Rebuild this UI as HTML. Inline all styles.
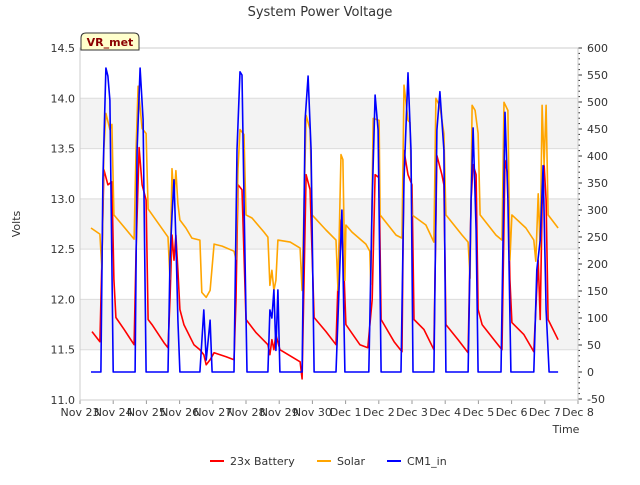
<!DOCTYPE html>
<html><head><meta charset="utf-8"><style>
body{margin:0;background:#fff;font-family:"Liberation Sans",sans-serif}
svg text{font-family:"DejaVu Sans","Liberation Sans",sans-serif}
</style></head><body>
<svg id="c" width="640" height="480" xmlns="http://www.w3.org/2000/svg"></svg>
<script>
const xTickLabels=["Nov 23","Nov 24","Nov 25","Nov 26","Nov 27","Nov 28","Nov 29","Nov 30","Dec 1","Dec 2","Dec 3","Dec 4","Dec 5","Dec 6","Dec 7","Dec 8"];
const leftTicks=[11.0,11.5,12.0,12.5,13.0,13.5,14.0,14.5];
const rightTicks=[-50,0,50,100,150,200,250,300,350,400,450,500,550,600];
const solarT=[0.33,0.60,0.66,0.72,0.78,0.90,0.96,1.02,1.63,1.69,1.75,1.87,1.99,2.05,2.65,2.71,2.77,2.83,2.89,2.95,3.01,3.19,3.37,3.61,3.67,3.80,3.92,4.04,4.28,4.64,4.70,4.76,4.82,4.94,5.00,5.18,5.54,5.66,5.72,5.78,5.84,5.90,5.96,6.33,6.63,6.69,6.81,6.93,6.99,7.41,7.71,7.77,7.86,7.92,7.98,8.01,8.19,8.61,8.73,8.76,8.83,9.01,9.04,9.52,9.70,9.76,9.88,9.94,10.00,10.42,10.66,10.72,10.84,10.96,11.02,11.51,11.69,11.75,11.81,11.90,11.99,12.05,12.53,12.71,12.77,12.89,12.95,13.01,13.43,13.67,13.73,13.80,13.86,13.92,13.98,14.04,14.10,14.40];
const solarV=[12.71,12.65,12.30,13.50,13.85,13.69,13.74,12.84,12.60,13.50,14.12,13.70,13.65,12.90,12.62,12.20,13.30,13.00,13.28,12.95,12.79,12.71,12.61,12.59,12.07,12.02,12.09,12.55,12.53,12.48,12.40,13.30,13.69,13.64,12.84,12.81,12.67,12.62,12.14,12.29,12.09,12.19,12.59,12.57,12.51,12.09,13.83,13.69,12.84,12.69,12.59,12.09,13.44,13.39,12.19,12.74,12.67,12.55,12.48,12.15,13.80,13.78,12.84,12.64,12.61,14.13,13.78,13.76,12.84,12.74,12.57,14.00,13.92,13.65,12.84,12.64,12.57,12.21,13.93,13.88,13.65,12.84,12.64,12.59,13.96,13.88,12.39,12.84,12.71,12.59,12.38,13.05,12.50,13.93,13.34,13.93,12.84,12.71];
const battT=[0.36,0.60,0.66,0.72,0.84,0.96,1.02,1.08,1.33,1.63,1.69,1.78,1.87,1.99,2.05,2.17,2.53,2.65,2.71,2.77,2.83,2.89,2.95,3.01,3.13,3.43,3.61,3.73,3.80,3.92,4.04,4.40,4.64,4.70,4.76,4.88,5.00,5.30,5.66,5.72,5.78,5.84,5.90,6.02,6.63,6.69,6.81,6.93,7.05,7.41,7.71,7.83,7.89,7.95,8.01,8.43,8.67,8.80,8.89,9.01,9.07,9.46,9.70,9.76,9.88,10.00,10.06,10.36,10.66,10.75,10.90,10.96,11.02,11.39,11.69,11.78,11.84,11.93,11.99,12.11,12.47,12.71,12.80,12.89,12.95,13.01,13.37,13.67,13.73,13.80,13.86,13.92,13.98,14.04,14.10,14.40];
const battV=[11.68,11.58,12.39,13.29,13.14,13.17,12.20,11.82,11.70,11.55,12.49,13.51,13.14,12.99,11.80,11.75,11.57,11.52,12.00,12.64,12.39,12.64,12.29,11.90,11.75,11.55,11.50,11.45,11.35,11.40,11.47,11.43,11.40,12.00,13.14,13.09,11.80,11.67,11.55,11.45,11.60,11.50,11.65,11.50,11.38,11.21,13.24,13.09,11.82,11.68,11.55,12.79,12.64,12.29,11.75,11.55,11.52,12.00,13.24,13.21,11.80,11.58,11.48,13.48,13.24,13.14,11.80,11.70,11.50,13.43,13.24,13.14,11.75,11.60,11.47,12.99,13.34,13.24,11.90,11.75,11.60,11.50,13.38,13.24,12.20,11.77,11.65,11.48,11.90,12.39,11.80,12.94,13.34,12.99,11.80,11.60];
const cmT=[0.33,0.63,0.69,0.78,0.84,0.90,1.00,1.66,1.72,1.81,1.90,1.99,2.65,2.71,2.77,2.83,2.89,2.95,3.01,3.61,3.73,3.80,3.86,3.92,3.98,4.64,4.73,4.82,4.88,4.94,5.03,5.66,5.72,5.78,5.84,5.90,5.96,6.02,6.69,6.78,6.87,6.96,7.05,7.71,7.80,7.89,7.98,8.70,8.80,8.89,8.98,9.07,9.67,9.76,9.88,9.97,10.03,10.66,10.75,10.84,10.96,11.02,11.69,11.78,11.84,11.93,11.99,12.68,12.80,12.89,12.98,13.67,13.76,13.86,13.95,14.04,14.13,14.40];
const cmW=[0,0,356,563,548,503,0,0,411,563,467,0,0,207,290,356,244,96,0,0,115,22,59,96,0,0,411,556,550,319,0,0,115,100,152,40,152,0,0,467,548,411,0,0,152,300,0,0,319,513,448,0,0,356,554,411,0,0,448,519,411,0,0,319,452,263,0,0,481,319,0,0,189,244,382,115,0,0];

const X0=80,X1=578,YT=48,YB=400;
const xs=t=>X0+t*(X1-X0)/15;
const yl=v=>YB-(v-11)*(YB-YT)/3.5;
const yr=w=>372-w*0.54;
const svg=document.getElementById('c');
const NS="http://www.w3.org/2000/svg";
function mk(tag,attrs,name,txt){const e=document.createElementNS(NS,tag);for(const k in attrs)e.setAttribute(k,attrs[k]);


if(txt!==undefined)e.textContent=txt;svg.appendChild(e);return e;}
mk('rect',{x:X0,y:YT,width:X1-X0,height:YB-YT,fill:'#fff'},'plot-area');
[[11.5,12],[12.5,13],[13.5,14]].forEach(b=>mk('rect',{x:X0,y:yl(b[1]),width:X1-X0,height:yl(b[0])-yl(b[1]),fill:'#f3f3f3'},'band'));
leftTicks.forEach(v=>{mk('line',{x1:X0,x2:X1,y1:yl(v),y2:yl(v),stroke:'#dcdcdc'},'grid-line');
mk('text',{x:75,y:yl(v)+4,'font-size':11,'text-anchor':'end',fill:'#333'},'y-tick-label',v.toFixed(1));});
xTickLabels.forEach((l,i)=>{mk('line',{x1:xs(i),x2:xs(i),y1:YB,y2:YB+4,stroke:'#999'},'x-tick');
mk('text',{x:xs(i),y:416,'font-size':11,'text-anchor':'middle',fill:'#333'},'x-tick-label',l);});
for(let w=-50;w<=600;w+=10){mk('line',{x1:X1,x2:X1+(w%50===0?4:2),y1:yr(w),y2:yr(w),stroke:'#333'},'right-tick');}
rightTicks.forEach(w=>mk('text',{x:587,y:yr(w)+4,'font-size':11,fill:'#333'},'right-tick-label',String(w)));
mk('rect',{x:X0,y:YT,width:X1-X0,height:YB-YT,fill:'none',stroke:'#ccc'},'plot-border');
function line(T,V,f,col,name){mk('polyline',{points:T.map((t,i)=>xs(t).toFixed(1)+','+f(V[i]).toFixed(1)).join(' '),fill:'none',stroke:col,'stroke-width':1.6,'stroke-linejoin':'round'},name);}
line(battT,battV,yl,'#ff0000','series-23x-battery');
line(solarT,solarV,yl,'#ffa500','series-solar');
line(cmT,cmW,yr,'#0000ff','series-cm1-in');
mk('text',{x:320,y:16,'font-size':13,'text-anchor':'middle',fill:'#333'},'chart-title','System Power Voltage');
mk('text',{x:20,y:224,'font-size':11,'text-anchor':'middle',fill:'#333',transform:'rotate(-90 20 224)'},'y-axis-title','Volts');
mk('text',{x:566,y:433,'font-size':11,'text-anchor':'middle',fill:'#333'},'x-axis-title','Time');
mk('path',{d:'M81,50 L81,38 Q81,33 86,33 L134,33 Q139,33 139,38 L139,50 Z',fill:'#ffffcc',stroke:'#333'},'station-label-box');
mk('text',{x:110,y:46,'font-size':11,'font-weight':'bold','text-anchor':'middle',fill:'#8b0000'},'station-label','VR_met');
[['#ff0000','23x Battery',210],['#ffa500','Solar',317],['#0000ff','CM1_in',387]].forEach(e=>{
mk('line',{x1:e[2],x2:e[2]+14,y1:461,y2:461,stroke:e[0],'stroke-width':2},'legend-swatch');
mk('text',{x:e[2]+20,y:465,'font-size':11,fill:'#333'},'legend-entry',e[1]);});
</script>
</body></html>
